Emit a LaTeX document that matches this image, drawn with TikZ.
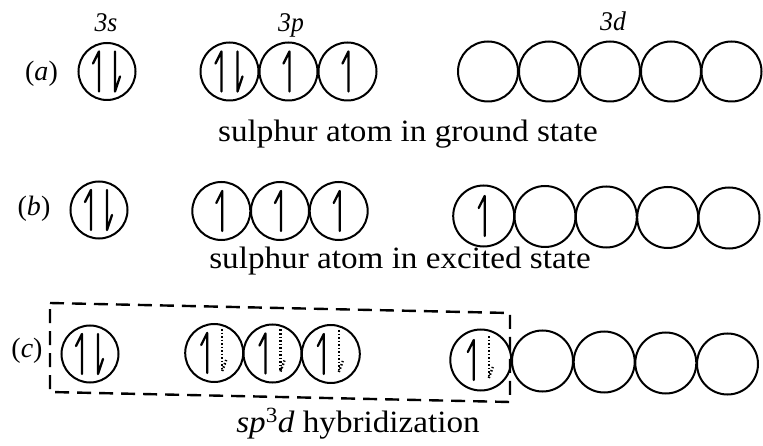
\documentclass[tikz,border=0pt]{standalone}
\usepackage{fontspec}
\setmainfont{Liberation Serif}
\begin{document}
\begin{tikzpicture}[x=1pt,y=-1pt,
  orb/.style={circle, draw, line width=2pt, minimum size=#1, inner sep=0pt},
  orb/.default=58pt,
  arr/.style={line width=2.3pt, line cap=round, line join=round},
  dotarr/.style={line width=2.4pt, dash pattern=on 1.5pt off 2pt},
  captxt/.style={font=\fontsize{31}{34}\selectfont, xscale=1.07, anchor=base, inner sep=0pt},
  subtxt/.style={font=\fontsize{27}{29}\selectfont\itshape, xscale=0.95, anchor=base, inner sep=0pt},
  lbltxt/.style={font=\fontsize{28}{30}\selectfont, inner sep=0pt},
  upar/.pic={\draw[arr] (0,20) -- (0,-20) -- (-6,-8);},
  dnar/.pic={\draw[arr] (0,-20) -- (0,20) -- (5,5);},
  dotdn/.pic={\draw[dotarr] (0,-24) -- (0,18); \draw[dotarr] (0,18) -- (4,7);}
]
\useasboundingbox (0,0) rectangle (763,446);

% labels
\node[subtxt] (l3s) at (106,32) {3s};
\node[subtxt] (l3p) at (291,32) {3p};
\node[subtxt] (l3d) at (613,31) {3d};
\node[lbltxt] (la) at (41.5,73.5) {(\textit{a})};
\node[lbltxt] (lb) at (34,209) {(\textit{b})};
\node[lbltxt] (lc) at (27,351) {(\textit{c})};

% row a
\node[orb=57pt] (a0) at (107,71.5) {};
\node[orb] (a1) at (229.5,71.5) {};
\node[orb] (a2) at (288.5,71.5) {};
\node[orb] (a3) at (347.5,71.5) {};
\foreach \i/\x in {4/488,5/549,6/610,7/671,8/731.5}
  \node[orb=60pt] (a\i) at (\x,71.5) {};
\path (a0.center) ++(-8,0) pic {upar};
\path (a0.center) ++(8,0) pic {dnar};
\path (a1.center) ++(-8,0) pic {upar};
\path (a1.center) ++(8,0) pic {dnar};
\path (a2.center) ++(1,0) pic {upar};
\path (a3.center) ++(1,0) pic {upar};
\node[captxt] (ta) at (408,142) {sulphur atom in ground state};

% row b
\node[orb=57pt] (b0) at (99,210) {};
\node[orb] (b1) at (221.3,211) {};
\node[orb] (b2) at (280,211) {};
\node[orb] (b3) at (338.7,211) {};
\foreach \i/\x/\y in {4/483.7/216,5/545/216.5,6/606.3/217,7/667.7/217.5,8/729/218}
  \node[orb=61pt] (b\i) at (\x,\y) {};
\path (b0.center) ++(-8,0) pic {upar};
\path (b0.center) ++(8,0) pic {dnar};
\path (b1.center) ++(1,0) pic {upar};
\path (b2.center) ++(1,0) pic {upar};
\path (b3.center) ++(1,0) pic {upar};
\path (b4.center) ++(1,0) pic {upar};
\node[captxt] (tb) at (400,269) {sulphur atom in excited state};

% row c
\node[orb=57pt] (c0) at (90,354) {};
\node[orb] (c1) at (214.2,353) {};
\node[orb] (c2) at (272.5,353.5) {};
\node[orb] (c3) at (330.8,354) {};
\foreach \i/\x/\y in {4/480.8/360,5/542.5/361,6/604.2/362,7/665.8/363,8/727.5/364}
  \node[orb=61pt] (c\i) at (\x,\y) {};
\path (c0.center) ++(-8,0) pic {upar};
\path (c0.center) ++(8,0) pic {dnar};
\foreach \n in {c1,c2,c3,c4}{
  \path (\n.center) ++(-7,0) pic {upar};
  \path (\n.center) ++(8,0) pic {dotdn};
}
\coordinate (k1) at (50,303);
\coordinate (k2) at (510,313);
\coordinate (k3) at (510,402);
\coordinate (k4) at (50,392);
\draw[line width=2.4pt, dash pattern=on 14pt off 8pt] (k1) -- (k2) -- (k3) -- (k4) -- cycle;
\node[captxt] (tc) at (358,432) {\textit{sp}\textsuperscript{3}\textit{d} hybridization};
\end{tikzpicture}
\end{document}
